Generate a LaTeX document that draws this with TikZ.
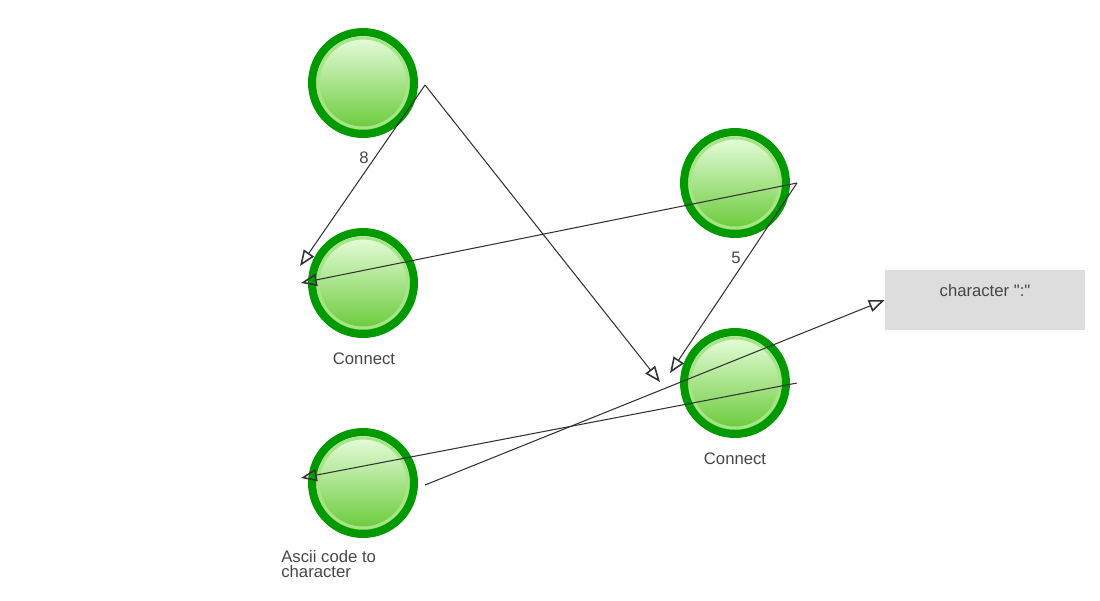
\documentclass[tikz,border=0pt]{standalone}
\usepackage{fontspec}
\setmainfont{Liberation Sans}
\usetikzlibrary{arrows.meta}
\definecolor{vertanneau}{RGB}{0,153,0}
\definecolor{verthaut}{RGB}{236,255,226}
\definecolor{vertbas}{RGB}{100,200,50}
\definecolor{vertbord}{RGB}{165,228,135}
\definecolor{gristexte}{RGB}{70,70,70}
\definecolor{grisboite}{RGB}{221,221,221}
\begin{document}
\begin{tikzpicture}[x=0.02cm, y=-0.02cm]
\tikzset{boule/.style={circle, draw=vertanneau, line width=0.16cm, minimum size=2.04cm, inner sep=0pt, top color=verthaut, bottom color=vertbas, path picture={\draw[vertbord, line width=0.06cm] (path picture bounding box.center) circle (0.9cm);}},
etiquette/.style={text=gristexte, font=\fontsize{9.5}{8.5}\selectfont},
lien/.style={draw=black!80, line width=0.6pt, -{Triangle[open, length=9pt, width=7pt, line width=0.9pt]}}}
\useasboundingbox (0,0) rectangle (1100,600);
\node[boule] (C1) at (363,83) {};
\node[boule] (C2) at (363,283) {};
\node[boule] (C3) at (363,483) {};
\node[boule] (C4) at (735,183) {};
\node[boule] (C5) at (735,383) {};
\node[etiquette, fill=grisboite, minimum width=4cm, minimum height=1.2cm, text height=0.23cm, text depth=0.37cm] (B1) at (985,300) {character \textquotedbl:\textquotedbl};
\node[etiquette] (L2) at (364,359) {Connect};
\node[etiquette] (L5) at (735,459) {Connect};
\node[etiquette, anchor=north west, align=left, inner sep=0pt] (L3) at (281,550) {Ascii code to\\character};
\node[etiquette] (L8) at (364,158) {8};
\node[etiquette] (L6) at (736,258) {5};
\coordinate (D1) at (425,85);
\coordinate (D4) at (797,183);
\coordinate (D5) at (797,383);
\coordinate (D3) at (425,485);
\coordinate (A2h) at (300,266);
\coordinate (A2b) at (301,283);
\coordinate (A5g) at (660,382);
\coordinate (A5d) at (670,373);
\coordinate (A3) at (301,478);
\draw[lien] (D1) -- (A2h);
\draw[lien] (D1) -- (A5g);
\draw[lien] (D4) -- (A2b);
\draw[lien] (D4) -- (A5d);
\draw[lien] (D5) -- (A3);
\draw[lien] (D3) -- (B1.west);
\end{tikzpicture}
\end{document}
